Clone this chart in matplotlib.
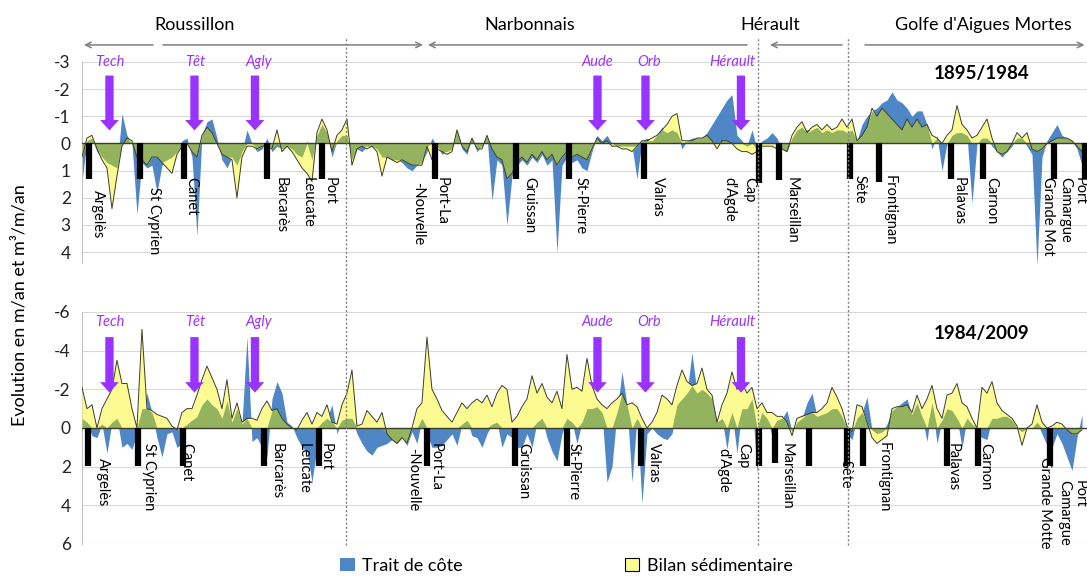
import numpy as np
import matplotlib
matplotlib.use("Agg")
import matplotlib.pyplot as plt
from matplotlib.patches import Patch
from matplotlib.lines import Line2D
from matplotlib.transforms import blended_transform_factory

plt.rcParams['font.family'] = ['Lato', 'DejaVu Sans']
plt.rcParams['axes.unicode_minus'] = False

# distance along the coast (km), one sample per km
km = np.arange(0, 201)

# 1895/1984 : trait de cote (m/an) and bilan sedimentaire (m3/m/an)
trait_1895 = [
    1.4, -0.1, -0.2, 0.3, 0.5, 0.7, 0.8, 0.9, -1.1, -0.3,
    0.0, 2.6, 0.7, 0.9, 0.8, 1.8, 0.8, 0.6, 0.5, 0.3,
    -0.1, -0.2, 0.5, 3.4, -0.3, -0.8, -0.9, -0.2, 0.6, 0.9,
    0.5, 0.8, 0.3, -0.5, 0.0, 0.3, 0.2, -0.2, 0.3, 0.1,
    0.2, 0.1, 0.2, 0.4, 0.5, -0.1, 0.6, -0.3, -0.7, -0.4,
    0.5, -0.1, -0.3, -0.3, 0.6, 0.2, 0.3, 0.1, 0.1, 0.2,
    0.5, 0.5, 0.6, 0.6, 0.7, 0.9, 1.0, 0.8, 0.7, 0.3,
    -0.2, 0.1, 0.4, 0.3, 0.2, -0.5, 0.2, 0.4, -0.2, 0.3,
    0.1, -0.3, 2.1, 0.6, 0.8, 3.0, 1.2, 0.8, 0.6, 0.8,
    0.5, 0.7, 0.4, 0.8, 0.6, 4.0, 0.8, 0.5, 0.7, 0.6,
    0.9, 1.0, 0.3, -0.3, -0.1, -0.3, 0.0, 0.1, 0.1, 0.1,
    0.1, 1.3, -0.1, -0.2, -0.1, -0.3, -0.6, -0.4, -0.5, -0.4,
    0.2, -0.1, -0.2, -0.2, -0.2, -0.4, -0.7, -1.0, -1.3, -1.6,
    -1.8, -0.3, -0.1, 0.1, -0.5, 0.2, -0.1, -0.2, -0.4, -0.2,
    0.2, 0.3, -0.2, -0.5, -0.6, -0.5, -0.5, -0.6, -0.4, -0.5,
    -0.4, -0.5, -0.5, -0.4, -0.5, -0.1, -0.7, -1.0, -1.2, -1.3,
    -1.5, -1.6, -1.9, -1.6, -1.5, -1.3, -1.0, -1.2, -1.2, -0.7,
    0.2, -0.3, 1.0, 0.0, -0.3, -0.4, -0.4, -0.3, 2.2, 0.0,
    -0.2, -0.2, 0.1, 0.3, 0.5, 0.3, 0.1, -0.2, -0.2, 0.1,
    0.4, 4.5, 0.5, -0.1, -0.4, -0.7, -0.3, -0.2, -0.1, 0.2,
    0.8]
bilan_1895 = [
    0.5, -0.2, -0.3, 0.2, 0.6, 0.9, 2.4, 1.2, 0.1, -0.2,
    -0.1, 0.5, 0.6, 0.8, 0.5, 0.5, 0.7, 0.9, 1.1, 0.4,
    0.1, 0.0, 0.3, 0.5, -0.3, -0.6, -0.4, 0.0, 0.4, 0.5,
    0.6, 2.0, 0.5, 0.1, 0.1, 0.2, 0.1, 0.1, 0.2, -0.5,
    0.3, 0.1, 0.3, 0.6, 0.9, 1.1, 1.4, -0.4, -0.9, -0.5,
    0.3, -0.3, -0.5, -0.9, 0.8, 0.2, 0.1, 0.2, 0.1, 0.3,
    1.2, 0.5, 0.6, 0.7, 0.6, 0.7, 0.8, 0.8, 0.8, 0.1,
    0.6, 0.2, 0.3, 0.4, 0.3, -0.5, 0.1, 0.3, -0.2, 0.2,
    0.2, -0.3, 0.2, 0.5, 0.6, 1.3, 1.1, 0.7, 0.5, 0.7,
    0.4, 0.6, 0.3, 0.6, 0.4, 0.8, 0.5, 0.3, 0.5, 0.4,
    0.5, 0.6, 0.2, -0.2, 0.0, -0.1, 0.1, 0.1, 0.2, 0.2,
    0.3, 0.1, -0.1, -0.1, -0.2, -0.3, -0.5, -0.7, -1.0, -1.1,
    -0.1, -0.1, -0.1, -0.2, -0.2, -0.3, -0.1, 0.2, -0.1, -0.1,
    0.0, 0.2, 0.3, 0.3, 0.4, 0.3, 0.1, 0.1, 0.1, 0.2,
    0.2, 0.3, -0.3, -0.6, -0.8, -0.4, -0.6, -0.7, -0.5, -0.7,
    -0.5, -0.6, -0.9, -0.6, -0.9, -0.1, -0.3, -0.6, -1.3, -1.0,
    -1.3, -1.1, -0.9, -0.7, -0.5, -0.9, -0.6, -0.9, -0.6, -0.7,
    -0.3, -0.2, 0.0, -0.3, -0.5, -1.4, -0.7, -0.5, -0.2, -0.3,
    -0.6, -0.9, -0.2, 0.3, 0.4, 0.3, 0.0, -0.4, -0.2, -0.4,
    0.2, 0.3, 0.2, 0.0, -0.1, -0.2, -0.2, -0.2, -0.1, 0.1,
    0.3]

# 1984/2009
trait_1984 = [
    -0.5, -0.3, 0.4, 0.5, -0.2, 1.3, -0.3, -0.5, 1.0, 0.8,
    1.1, 0.3, -1.0, -1.8, -0.8, 0.5, 1.5, 0.3, 0.2, 1.0,
    0.8, -0.2, -0.4, -0.6, -1.2, -1.5, -1.2, -1.0, -0.5, -1.4,
    -0.3, -1.0, -0.2, -4.7, 0.7, 0.5, 1.0, 1.5, -1.5, -2.4,
    -1.8, -0.3, -0.1, 0.5, 1.0, 1.2, 2.8, 1.0, -0.3, -0.5,
    -1.2, 0.3, -0.4, -0.5, -0.5, 0.3, 0.8, 1.2, 1.4, 1.0,
    0.9, 0.8, 0.6, 0.8, 0.5, 0.9, 0.2, 0.8, -0.5, 0.3,
    1.0, 1.0, 0.9, 0.6, 0.3, 0.9, -0.2, -0.4, 0.4, 0.5,
    1.0, 0.3, -0.2, -0.3, 1.0, 0.3, 0.5, 1.0, 1.0, 0.3,
    1.0, -0.3, -0.5, 0.5, 1.2, 1.7, 0.3, -0.5, -0.3, 0.8,
    -0.3, -1.0, -1.0, -1.1, -0.8, 2.8, 2.0, -0.8, -2.9, -1.2,
    2.8, -0.5, 3.9, 0.3, 0.0, 0.3, 0.5, 0.6, 0.3, -1.2,
    -1.5, -1.8, -3.9, -1.8, -2.0, -1.8, -1.5, -0.3, -0.5, 1.1,
    -0.8, 1.3, -1.0, -1.0, -1.5, 2.3, -0.8, -0.5, 0.4, -0.4,
    -0.5, -0.9, 0.2, -0.3, -0.5, -1.3, -1.8, -0.6, -0.7, -0.8,
    -1.0, -1.0, -0.6, 0.3, 0.6, -0.5, -0.8, -1.6, 0.1, 0.3,
    0.2, -0.2, -0.9, -1.1, -1.3, -1.5, -0.7, -1.3, -0.6, 0.7,
    -1.3, 0.8, -0.4, -1.0, -0.9, -0.5, 1.0, -0.5, -0.2, 0.3,
    0.5, 0.6, -0.5, -0.5, -0.6, -0.6, -0.4, 0.0, 0.2, 0.0,
    0.0, -0.3, 0.3, 0.9, 1.0, 0.3, 0.8, 1.5, 2.2, 0.5,
    -0.7]
bilan_1984 = [
    -2.1, -1.0, -1.2, 0.0, -1.0, -1.5, -2.0, -3.5, -2.3, -2.3,
    -1.0, 0.0, -5.1, -1.0, -0.9, -0.7, -0.6, -0.5, -0.1, 0.1,
    -0.8, -1.0, -1.0, -1.7, -2.5, -3.2, -2.6, -2.0, -1.0, -2.5,
    -0.5, -1.3, -0.3, -0.5, -0.5, -0.4, -1.0, -1.4, -0.9, -1.0,
    -0.5, -0.2, 0.0, 0.1, -0.4, -0.8, -0.2, -0.8, -0.6, -1.2,
    -0.3, -0.2, -1.2, -1.8, -3.0, -0.1, -0.2, -0.9, -0.6, -0.3,
    -0.8, 0.3, 0.6, 0.8, 0.5, 0.8, 0.0, -1.0, -1.3, -4.7,
    -2.0, -1.5, -0.9, -0.6, -0.3, -0.8, -1.3, -1.0, -1.3, -1.5,
    -1.3, -1.7, -1.1, -1.8, -2.2, -2.0, -0.3, -0.6, -1.1, -1.5,
    -2.7, -1.8, -2.3, -1.6, -1.3, -1.9, -1.0, -3.8, -2.0, -2.1,
    -1.9, -3.6, -2.2, -1.5, -1.2, -1.0, -1.3, -1.5, -1.8, -1.2,
    -1.3, -1.1, -0.5, 0.0, -0.3, -0.8, -1.7, -1.5, -1.2, -2.2,
    -3.0, -2.4, -2.2, -2.3, -3.1, -2.0, -1.7, -0.3, -1.2, -1.8,
    -2.9, -2.0, -2.3, -1.8, -2.1, -1.0, -1.3, -0.8, -0.8, -0.6,
    -0.6, -0.3, 0.4, -0.5, -0.6, -0.7, -0.8, -0.8, -1.0, -1.3,
    -2.1, -1.6, -1.0, -0.1, 0.2, -1.2, -1.1, -0.3, 0.5, 0.8,
    0.6, 0.4, -1.0, -1.1, -1.1, -1.2, -0.8, -1.7, -1.0, -1.5,
    -2.2, -1.0, -0.5, -1.7, -1.8, -2.3, -1.3, -1.1, -0.5, 0.0,
    -2.1, -1.8, -2.4, -1.3, -0.9, -0.7, -0.5, -0.1, 0.9, 0.0,
    -0.2, -1.2, -0.3, 0.0, -0.1, -0.3, -0.2, 0.1, 0.3, 0.3,
    0.1]

# towns (marker position in km, marker length)
towns_1895 = [1.4, 11.6, 20.4, 37, 48, 70.6, 86.8, 97.4, 112.4, 135.4,
              139.4, 153.6, 159.4, 173.8, 180.2, 194.4, 200.6]
towns_1895_len = [1.3, 1.3, 1.3, 1.3, 1.3, 1.3, 1.3, 1.3, 1.3, 1.45,
                  1.35, 1.3, 1.4, 1.3, 1.3, 1.3, 1.3]
towns_1984 = [1.2, 11.3, 20.2, 36.5, 47.5, 69.1, 86.6, 97.1, 111.9, 135.4,
              138.6, 145.4, 153, 156.3, 173, 179.3, 193.7]
towns_1984_len = [1.95, 1.95, 1.95, 1.95, 1.95, 1.95, 1.95, 1.95, 1.95, 1.95,
                  1.8, 1.95, 1.95, 1.95, 1.95, 1.95, 1.95]

labels_1895 = [("Argelès", 3.2, 1.7), ("St Cyprien", 14.5, 1.6), ("Canet", 21.8, 1.25),
               ("Barcarès", 39.8, 1.25), ("Leucate", 45.2, 1.25), ("Port", 49.5, 1.25),
               ("-Nouvelle", 67.3, 1.4), ("Port-La", 72, 1.25), ("Gruissan", 89.4, 1.25),
               ("St-Pierre", 99.8, 1.25), ("Valras", 115.2, 1.25), ("d'Agde", 129.4, 1.25),
               ("Cap", 133.4, 1.25), ("Marseillan", 142, 1.25), ("Sète", 155.6, 1.15),
               ("Frontignan", 161.6, 1.15), ("Palavas", 175.4, 1.25), ("Carnon", 181.8, 1.25),
               ("Grande Mot", 193.2, 1.25), ("Camargue", 196.6, 1.25), ("Port", 199.6, 1.25)]
labels_1984 = [("Argelès", 4.2, 1.55), ("St Cyprien", 13.5, 0.8), ("Canet", 20.8, 0.8),
               ("Barcarès", 39, 0.8), ("Leucate", 44.4, 0.8), ("Port", 48.8, 0.8),
               ("-Nouvelle", 66.2, 1.05), ("Port-La", 70.8, 0.8), ("Gruissan", 88.2, 0.8),
               ("St-Pierre", 98.4, 0.8), ("Valras", 114.4, 0.8), ("d'Agde", 128.2, 1.05),
               ("Cap", 132.2, 0.8), ("Marseillan", 141, 0.8), ("Sète", 152.8, 1.65),
               ("Frontignan", 160.4, 0.75), ("Palavas", 174.2, 0.8), ("Carnon", 180.6, 0.8),
               ("Grande Motte", 192.6, 1.5), ("Camargue", 196.4, 2.7), ("Port", 199.6, 2.7)]

rivers = ["Tech", "Têt", "Agly", "Aude", "Orb", "Hérault"]
river_km = [5.5, 22.5, 34.6, 103.1, 112.7, 131.8]
river_label_km = [5.5, 22.7, 35.4, 103.0, 113.4, 130.0]

regions = ["Roussillon", "Narbonnais", "Hérault", "Golfe d'Aigues Mortes"]
region_km = [22.6, 89.6, 137.6, 180.2]
boundaries_km = [52.8, 135.2, 153.2]

blue = '#4f86c6'
yellow = '#fbfb92'
green = '#93b35f'
purple = '#9933ff'


def draw_panel(ax, trait, bilan, ylim, ticks, towns, town_len, labels,
               arrow_tail, arrow_tip, river_y, period, period_y):
    t = np.array(trait)
    b = np.array(bilan)
    same = np.sign(t) == np.sign(b)
    overlap = np.where(same, np.sign(t) * np.minimum(np.abs(t), np.abs(b)), 0)

    ax.fill_between(km, 0, t, color=blue, lw=0, zorder=2)
    ax.fill_between(km, 0, b, color=yellow, lw=0, zorder=3)
    ax.fill_between(km, 0, overlap, color=green, lw=0, zorder=4)
    ax.plot(km, b, color='#3d3d2c', lw=0.7, zorder=5)
    ax.axhline(0, color='#3d3d2c', lw=1.0, zorder=5)

    ax.vlines(towns, 0, town_len, color='black', lw=4.5, zorder=6)
    for name, x, y in labels:
        ax.text(x, y, name, rotation=270, ha='center', va='top', fontsize=10.5, zorder=7)

    for name, x, lx in zip(rivers, river_km, river_label_km):
        ax.annotate('', xy=(x, arrow_tip), xytext=(x, arrow_tail),
                    arrowprops=dict(arrowstyle='simple,head_length=0.75,head_width=1.35,tail_width=0.6',
                                    fc=purple, ec='none', mutation_scale=10,
                                    shrinkA=0, shrinkB=0), zorder=8)
        ax.text(lx, river_y, name, color=purple, style='italic', fontsize=10.5,
                ha='center', va='center', zorder=8)

    ax.text(180, period_y, period, fontweight='bold', fontsize=13.5, ha='center', va='center')

    ax.set_xlim(0, 201)
    ax.set_ylim(ylim)
    ax.set_yticks(ticks)
    ax.set_yticklabels([str(v) for v in ticks])
    ax.tick_params(axis='y', length=0, pad=8, labelsize=12.5, labelcolor='#222222')
    ax.set_xticks([])
    ax.yaxis.grid(True, color='#d9d9d9', lw=0.8)
    ax.set_axisbelow(True)
    for s in ['top', 'right', 'bottom']:
        ax.spines[s].set_visible(False)
    ax.spines['left'].set_color('#c0c0c0')


fig = plt.figure(figsize=(10.87, 5.76), dpi=100)
ax1 = fig.add_axes([0.0754, 0.5434, 0.9246, 0.349])
ax2 = fig.add_axes([0.0754, 0.0556, 0.9246, 0.4028])

draw_panel(ax1, trait_1895, bilan_1895, (4.4, -3), list(range(-3, 5)),
           towns_1895, towns_1895_len, labels_1895, -2.5, -0.48, -3.0,
           "1895/1984", -2.56)
draw_panel(ax2, trait_1984, bilan_1984, (6, -6), list(range(-6, 7, 2)),
           towns_1984, towns_1984_len, labels_1984, -4.7, -1.83, -5.5,
           "1984/2009", -4.9)

trans = blended_transform_factory(ax1.transData, fig.transFigure)

# region boundaries
for x in boundaries_km:
    fig.add_artist(Line2D([x, x], [0.054, 0.936], transform=trans, color='#808080',
                          ls=(0, (1.5, 1.5)), lw=1))

# region names and arrows
for name, x in zip(regions, region_km):
    ax1.text(x, 0.957, name, transform=trans, ha='center', va='center', fontsize=13)
region_arrows = [(0.4, 14.2), (68.2, 16.2), (69.2, 133), (137.6, 152), (200.5, 156.6)]
for head, tail in region_arrows:
    ax1.annotate('', xy=(head, 0.922), xytext=(tail, 0.922), xycoords=trans, textcoords=trans,
                 arrowprops=dict(arrowstyle='->', color='#7f7f7f', lw=1.1, shrinkA=0, shrinkB=0),
                 annotation_clip=False)

fig.text(0.018, 0.47, 'Evolution en m/an et m³/m/an', rotation=90, va='center', ha='center',
         fontsize=13)

handles = [Patch(fc=blue, ec='none', label='Trait de côte'),
           Patch(fc=yellow, ec='black', lw=0.8, label='Bilan sédimentaire')]
fig.legend(handles=handles, loc='center', bbox_to_anchor=(0.521, 0.018), ncol=2,
           frameon=False, fontsize=13, columnspacing=9, handlelength=0.8,
           handleheight=0.8, handletextpad=0.4)

fig.savefig('out.png', dpi=100)
